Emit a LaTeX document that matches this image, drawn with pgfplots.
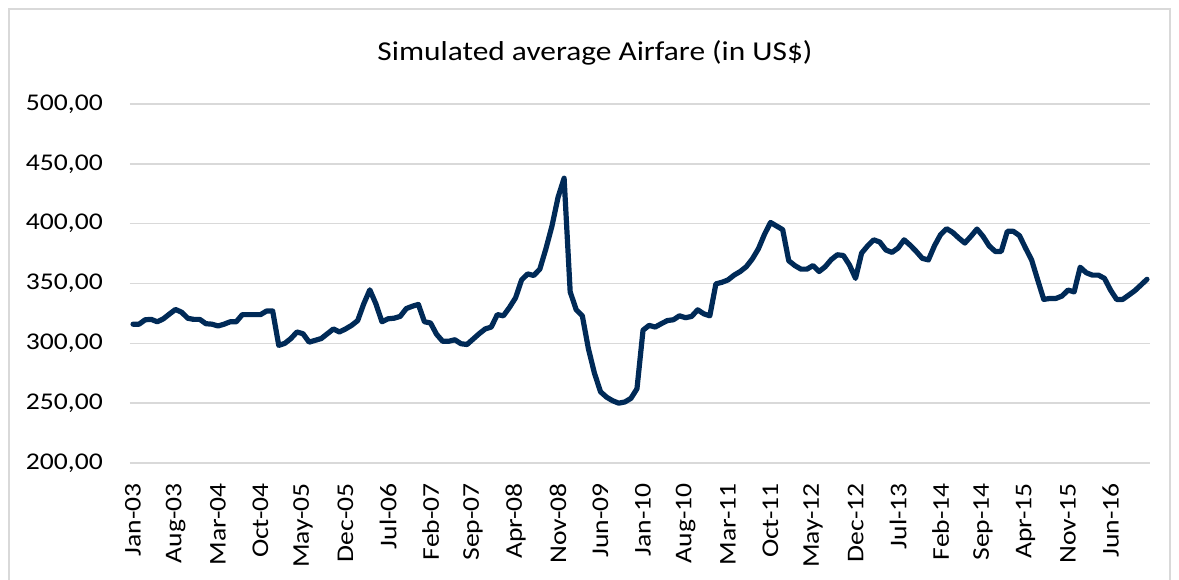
\documentclass[border=0pt]{standalone}
\usepackage{fontspec}
\setmainfont{Carlito}[FakeStretch=1.15]
\usepackage{pgfplots}
\pgfplotsset{compat=1.18}
\definecolor{navy}{HTML}{002A57}
\definecolor{gridc}{HTML}{D9D9D9}
\begin{document}
\begin{tikzpicture}
\useasboundingbox (-130pt,-117pt) rectangle (1049pt,463pt);
\draw[gridc, line width=1.5pt] (-121pt,-117pt) -- (-121pt,454pt) -- (1040pt,454pt) -- (1040pt,-117pt);
\begin{axis}[
  at={(0pt,0pt)}, anchor=south west,
  scale only axis, width=1020pt, height=359pt,
  xmin=-0.5, xmax=167.5, ymin=200, ymax=500,
  axis line style={draw=none},
  major tick length=0pt,
  ytick={200,250,...,500},
  ymajorgrids, grid style={gridc, line width=1.5pt},
  xtick={0,7,...,161},
  xticklabels={Jan-03,Aug-03,Mar-04,Oct-04,May-05,Dec-05,Jul-06,Feb-07,Sep-07,Apr-08,Nov-08,Jun-09,Jan-10,Aug-10,Mar-11,Oct-11,May-12,Dec-12,Jul-13,Feb-14,Sep-14,Apr-15,Nov-15,Jun-16},
  xticklabel style={rotate=90, anchor=east, inner sep=0pt, font=\fontsize{24}{28}\selectfont},
  xticklabel shift=20pt,
  yticklabel style={anchor=east, inner sep=0pt, font=\fontsize{24}{28}\selectfont,
    /pgf/number format/.cd, fixed, fixed zerofill, precision=2, use comma, assume math mode=true},
  yticklabel shift=27pt,
  clip=false,
]
\addplot[navy, line width=5.2pt, line join=round, line cap=round, mark=none] coordinates {
(0,316)(1,316)(2,319.7)(3,320)(4,318)(5,320.5)(6,324.5)(7,328.3)(8,326)(9,321)
(10,320)(11,320)(12,316.4)(13,316)(14,314.5)(15,316)(16,318)(17,318)(18,324)(19,324)
(20,324)(21,324)(22,327)(23,327)(24,298.3)(25,300)(26,304)(27,309.5)(28,308)(29,301)
(30,302.5)(31,304)(32,308)(33,312)(34,309.5)(35,312)(36,315)(37,319)(38,333)(39,344.7)
(40,333)(41,318)(42,320.5)(43,321)(44,322.5)(45,329)(46,331)(47,332.5)(48,318)(49,317)
(50,307.5)(51,301.7)(52,301.7)(53,303)(54,299.7)(55,299)(56,303.5)(57,308)(58,312)(59,313.6)
(60,324)(61,323)(62,330)(63,338)(64,353)(65,358)(66,356.7)(67,362)(68,379)(69,398)
(70,422)(71,438)(72,343)(73,328)(74,323)(75,295.5)(76,275)(77,259.5)(78,255)(79,252)
(80,250)(81,251)(82,254)(83,262)(84,311)(85,315)(86,313.6)(87,316.4)(88,319)(89,319.7)
(90,323)(91,321.4)(92,322.5)(93,328)(94,324.7)(95,323)(96,349.7)(97,351)(98,353)(99,357)
(100,360)(101,364)(102,370.5)(103,379)(104,391)(105,401)(106,398)(107,395)(108,369)(109,365)
(110,362)(111,362)(112,365)(113,360)(114,364)(115,370)(116,374)(117,373.4)(118,365.5)(119,354.3)
(120,375.4)(121,381.5)(122,386.5)(123,384.6)(124,378)(125,376)(126,379.6)(127,386.5)(128,382)(129,376.8)
(130,371)(131,369.7)(132,381.5)(133,390.8)(134,395.8)(135,392.7)(136,388)(137,383.8)(138,389.4)(139,395.5)
(140,389.4)(141,381.5)(142,376.8)(143,376.8)(144,393.6)(145,393.6)(146,390)(147,379.6)(148,369.7)(149,353)
(150,336.7)(151,337.5)(152,337.5)(153,339.5)(154,344.5)(155,343)(156,363.6)(157,359)(158,357)(159,357)
(160,354.3)(161,344.5)(162,336.7)(163,336.7)(164,340.3)(165,344)(166,348.7)(167,353.5)
};
\end{axis}
\node[font=\fontsize{27.3}{32}\selectfont, inner sep=0pt] at (465pt,410pt) {Simulated average Airfare (in US\$)};
\end{tikzpicture}
\end{document}
